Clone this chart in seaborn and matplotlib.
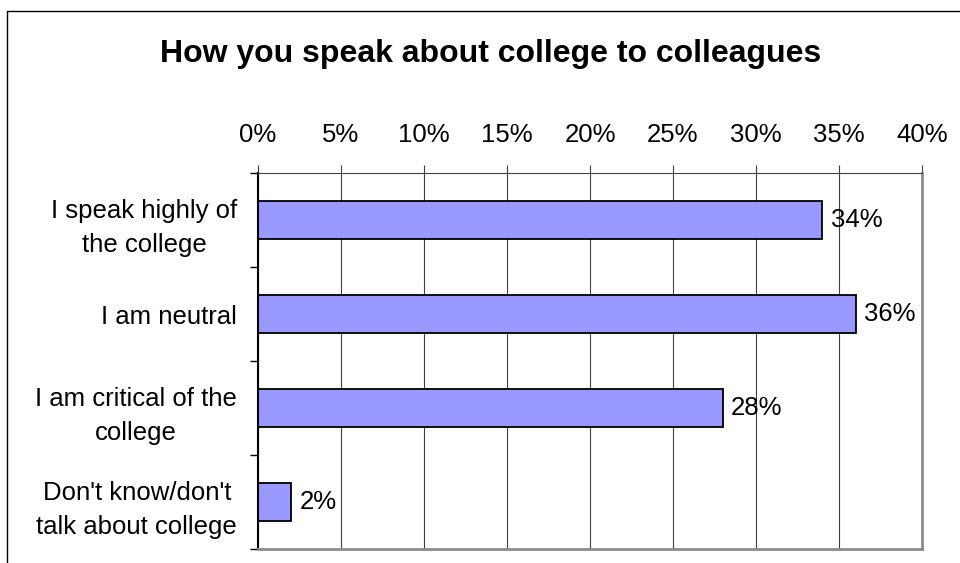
import numpy as np
import pandas as pd
import matplotlib
matplotlib.use('Agg')
import matplotlib.pyplot as plt
from matplotlib.lines import Line2D
from matplotlib.ticker import FixedLocator, PercentFormatter
import seaborn as sns

# data
categories = ['I speak highly of\nthe college',
              'I am neutral',
              'I am critical of the\ncollege',
              "Don't know/don't\ntalk about college"]
shares = [34, 36, 28, 2]
value_labels = ['34%', '36%', '28%', '2%']
x_ticks = [0, 5, 10, 15, 20, 25, 30, 35, 40]

df = pd.DataFrame({'answer': categories, 'share': shares})

sns.set_style('white', {'text.color': 'black', 'xtick.color': 'black', 'ytick.color': 'black'})
plt.rcParams['font.family'] = ['Liberation Sans', 'DejaVu Sans']

W, H = 960, 563
fig = plt.figure(figsize=(W / 100, H / 100), dpi=100)
ax = fig.add_axes([258 / W, 1 - 549 / H, 664 / W, 376 / H])

sns.barplot(data=df, x='share', y='answer', orient='h', color='#9999FF',
            saturation=1, edgecolor='black', linewidth=1.3, width=0.4, ax=ax)
ax.bar_label(ax.containers[0], labels=value_labels, padding=6, fontsize=18.5, color='black')

ax.set_xlim(0, 40)
ax.set_ylim(3.5, -0.5)
ax.set_xlabel('')
ax.set_ylabel('')

# x axis on top, Excel style
ax.xaxis.tick_top()
ax.xaxis.set_major_locator(FixedLocator(x_ticks))
ax.xaxis.set_major_formatter(PercentFormatter(decimals=0))
ax.tick_params(axis='x', which='major', direction='out', length=6, width=0.8,
               color='#404040', pad=13, labelsize=18.5, labelcolor='black')
ax.grid(axis='x', color='#404040', linewidth=0.8)
ax.set_axisbelow(True)

# category labels between boundary ticks
ax.yaxis.set_minor_locator(FixedLocator(np.arange(-0.5, len(categories), 1.0)))
ax.tick_params(axis='y', which='major', length=0, pad=15, labelsize=18.5, labelcolor='black')
ax.tick_params(axis='y', which='minor', direction='out', length=6, width=1, color='black', left=True)
for lab in ax.get_yticklabels():
    lab.set_multialignment('center')
    lab.set_linespacing(1.55)

for side in ['left', 'top', 'right', 'bottom']:
    ax.spines[side].set_visible(True)
ax.spines['left'].set_color('black')
ax.spines['left'].set_linewidth(1.5)
ax.spines['top'].set_color('#404040')
ax.spines['top'].set_linewidth(0.8)
ax.spines['right'].set_color('#8c8c8c')
ax.spines['right'].set_linewidth(2)
ax.spines['bottom'].set_color('#8c8c8c')
ax.spines['bottom'].set_linewidth(2)

fig.text(491 / W, 1 - 54 / H, 'How you speak about college to colleagues',
         ha='center', va='center', fontsize=23, fontweight='bold', color='black')

# outer chart frame (right and bottom edges fall outside the picture)
fig.add_artist(Line2D([7 / W, 1], [1 - 11 / H, 1 - 11 / H], color='black', linewidth=1))
fig.add_artist(Line2D([7 / W, 7 / W], [0, 1 - 11 / H], color='black', linewidth=1))

fig.savefig('out.png', dpi=100)
